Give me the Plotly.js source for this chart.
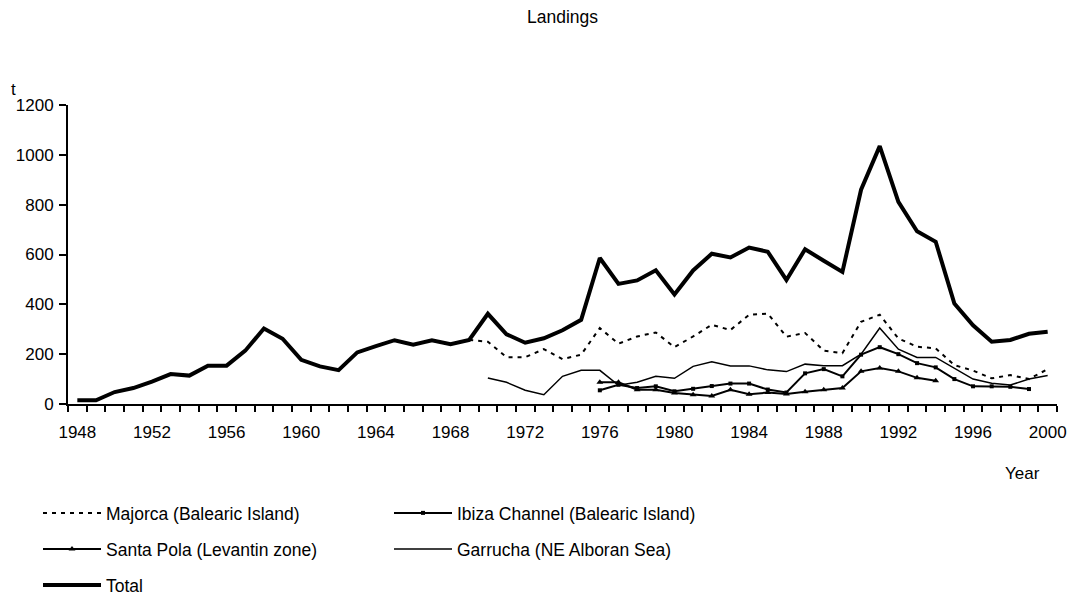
<!DOCTYPE html>
<html>
<head>
<meta charset="utf-8">
<script src="https://cdn.plot.ly/plotly-3.0.1.min.js"></script>
<style>html,body{margin:0;padding:0;background:#fff;}#chart{width:1070px;height:598px;}</style>
</head>
<body>
<div id="chart"></div>
<script>
// ---- data ----
var years = [];
for (var yr = 1948; yr <= 2000; yr++) years.push(yr);

var totalYears = years;
var total = [15,15,48,64,90,120,114,154,154,214,303,262,177,151,136,207,232,256,238,256,240,257,
             362,280,246,264,296,338,586,482,496,537,440,536,603,588,628,611,498,621,575,530,
             860,1035,811,693,651,403,316,250,257,282,290];

var majorcaYears = years.slice(21);            // 1969-2000
var majorca = [257,250,188,188,220,180,198,305,242,271,287,228,271,318,297,358,363,270,285,214,204,
               330,358,263,230,223,156,134,103,116,100,140];

var garruchaYears = years.slice(22);           // 1970-2000
var garrucha = [104,87,55,37,111,135,135,75,87,111,103,151,169,153,153,137,130,160,154,154,
                200,305,220,187,187,143,100,83,76,100,114];

var ibizaYears = years.slice(28, 52);          // 1976-1999
var ibiza = [55,77,64,71,51,61,72,82,82,58,46,123,140,111,198,228,200,164,147,100,71,71,69,60];

var santaPolaYears = years.slice(28, 47);      // 1976-1994
var santaPola = [87,87,57,57,44,37,32,57,39,46,40,49,57,64,131,144,131,105,93];

var xTickLabels = [1948,1952,1956,1960,1964,1968,1972,1976,1980,1984,1988,1992,1996,2000];

// ---- chart ----
var FONT = 'Liberation Sans, Arial, sans-serif';
var traces = [
  {x: majorcaYears, y: majorca, name: 'Majorca (Balearic Island)', mode: 'lines',
   line: {color: '#000', width: 2, dash: '4px,5px'}, legend: 'legend'},
  {x: ibizaYears, y: ibiza, name: 'Ibiza Channel (Balearic Island)', mode: 'lines+markers',
   line: {color: '#000', width: 2}, marker: {symbol: 'square', size: 4, color: '#000'}, legend: 'legend'},
  {x: santaPolaYears, y: santaPola, name: 'Santa Pola (Levantin zone)', mode: 'lines+markers',
   line: {color: '#000', width: 2}, marker: {symbol: 'triangle-up', size: 6, color: '#000'}, legend: 'legend2'},
  {x: garruchaYears, y: garrucha, name: 'Garrucha (NE Alboran Sea)', mode: 'lines',
   line: {color: '#000', width: 1.5}, legend: 'legend2'},
  {x: totalYears, y: total, name: 'Total', mode: 'lines',
   line: {color: '#000', width: 4}, legend: 'legend3'}
];

function legendAt(py) {
  return {orientation: 'h', xref: 'container', yref: 'container', x: 38/1070, y: 1 - py/598,
          xanchor: 'left', yanchor: 'middle', entrywidth: 278, entrywidthmode: 'pixels', itemwidth: 58,
          font: {family: FONT, size: 17.5, color: '#000'}, bgcolor: 'rgba(0,0,0,0)', borderwidth: 0};
}

var layout = {
  width: 1070, height: 598,
  margin: {l: 68, r: 13, t: 105, b: 194},
  paper_bgcolor: '#fff', plot_bgcolor: '#fff',
  font: {family: FONT, size: 17, color: '#000'},
  title: {text: 'Landings', x: 0.5, xref: 'paper', y: 1 - 17/598, yref: 'container',
          xanchor: 'center', yanchor: 'middle', font: {family: FONT, size: 17.5, color: '#000'}},
  xaxis: {range: [1947.5, 2000.5], showgrid: false, zeroline: false, showline: true,
          linecolor: '#000', linewidth: 2, tickmode: 'array', tickvals: xTickLabels,
          ticktext: xTickLabels.map(String), ticks: 'outside', ticklen: 6, tickcolor: 'rgba(0,0,0,0)',
          ticklabelstandoff: 6, tickfont: {family: FONT, size: 17, color: '#000'},
          minor: {tick0: 1947.5, dtick: 1, ticks: 'outside', ticklen: 6, tickwidth: 2, tickcolor: '#000', showgrid: false}},
  yaxis: {range: [0, 1200], dtick: 200, tick0: 0, showgrid: false, zeroline: false, showline: true,
          linecolor: '#000', linewidth: 2, ticks: 'outside', ticklen: 7, tickwidth: 2, tickcolor: '#000',
          ticklabelstandoff: 2, tickfont: {family: FONT, size: 17, color: '#000'}},
  showlegend: true,
  legend: legendAt(513),
  legend2: legendAt(549),
  legend3: legendAt(585),
  annotations: [
    {text: 't', xref: 'paper', yref: 'paper', x: (13 - 68)/989, y: (404 - 89)/299,
     xanchor: 'center', yanchor: 'middle', showarrow: false, font: {family: FONT, size: 17, color: '#000'}},
    {text: 'Year', xref: 'paper', yref: 'paper', x: (1022 - 68)/989, y: (404 - 473)/299,
     xanchor: 'center', yanchor: 'middle', showarrow: false, font: {family: FONT, size: 17, color: '#000'}}
  ]
};

Plotly.newPlot('chart', traces, layout, {displayModeBar: false, responsive: false});
</script>
</body>
</html>
